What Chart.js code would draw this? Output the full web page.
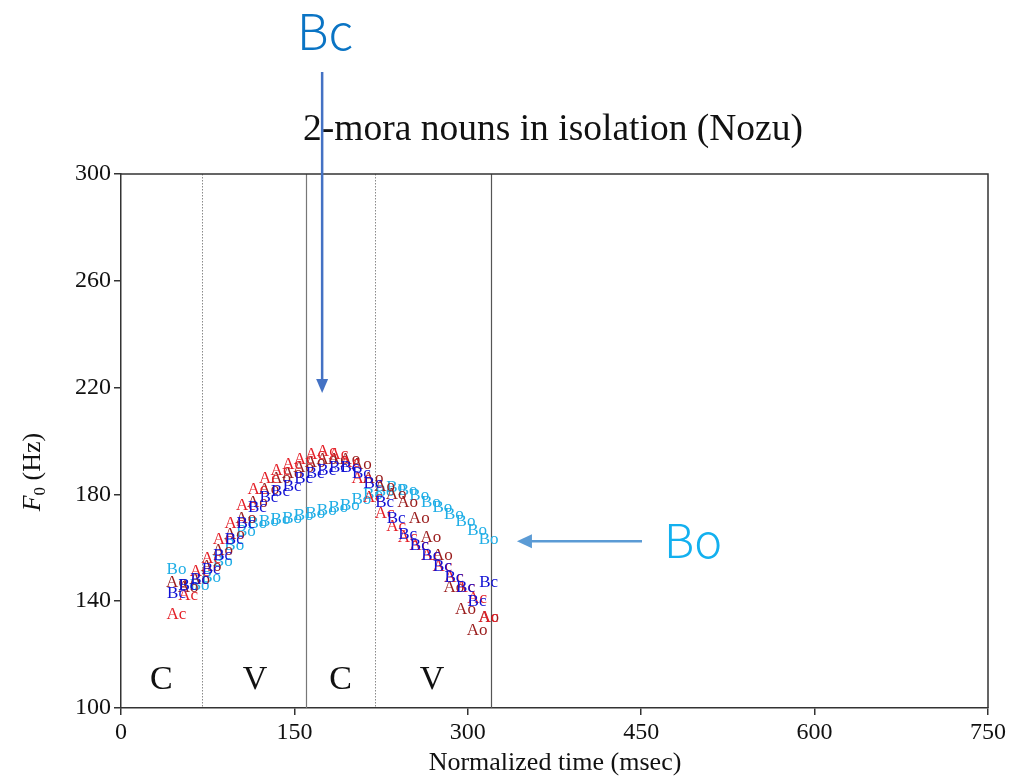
<!DOCTYPE html>
<html>
<head>
<meta charset="utf-8">
<script src="https://cdn.jsdelivr.net/npm/chart.js@4/dist/chart.umd.min.js"></script>
<style>
  html, body { margin: 0; padding: 0; background: #fff; }
  #wrap { width: 1013px; height: 777px; }
</style>
</head>
<body>
<div id="wrap"><canvas id="c" width="1013" height="777"></canvas></div>
<script>
// Normalized time points (msec)
const times = [48, 58, 68, 78, 88, 98, 108, 118, 128, 138, 148, 158, 168, 178,
               188, 198, 208, 218, 228, 238, 248, 258, 268, 278, 288, 298, 308, 318];

// F0 contours (Hz) for each accent/context condition
const acHz = [135, 142, 151, 156, 163, 169, 176, 182, 186, 189, 191, 193, 195, 196,
              195, 192, 186, 179, 173, 168, 164, 161, 157, 153, 149, 145, 141, 134];
const aoHz = [147, 145, 148, 153, 159, 165, 171, 177, 182, 186, 188, 190, 192, 193,
              193, 193, 191, 186, 183, 180, 177, 171, 164, 157, 145, 137, 129, 134];
const bcHz = [143, 146, 148, 152, 157, 163, 169, 175, 179, 181, 183, 186, 188, 189,
              190, 190, 188, 184, 177, 171, 165, 161, 157, 153, 149, 145, 140, 147];
const boHz = [152, 146, 146, 149, 155, 161, 166, 169, 170, 170.5, 171, 172, 173, 174,
              175, 176, 178, 180, 181, 182.5, 181.5, 179.5, 177, 175, 172.5, 170, 166.5, 163];

// Segment boundaries and segment names
const boundaries = [70, 160, 220, 320];
const segmentNames = ['C', 'V', 'C', 'V'];
const segmentCenters = [35, 116, 190, 269];

const xTicks = [0, 150, 300, 450, 600, 750];
const yTicks = [100, 140, 180, 220, 260, 300];

const toPoints = (ys) => times.map((t, i) => ({ x: t, y: ys[i] }));

const seriesDefs = [
  { label: 'Bo', data: boHz, color: '#20aee6' },
  { label: 'Ao', data: aoHz, color: '#9a1c1c' },
  { label: 'Ac', data: acHz, color: '#e41e26' },
  { label: 'Bc', data: bcHz, color: '#1010d4' }
];

const SERIF = '"Liberation Serif", "Times New Roman", serif';
const SANS = '"Noto Sans CJK JP", "Noto Sans", sans-serif';

// Draws segment boundaries and C/V names inside the plot
const segmentPlugin = {
  id: 'segments',
  beforeDatasetsDraw(chart) {
    const { ctx, chartArea: a, scales: { x, y } } = chart;
    ctx.save();
    boundaries.forEach((b, i) => {
      const px = Math.round(x.getPixelForValue(b)) + 0.5;
      ctx.beginPath();
      if (i % 2 === 0) {
        ctx.setLineDash([1.5, 1.5]);
        ctx.strokeStyle = '#8a8a8a';
        ctx.lineWidth = 1;
      } else {
        ctx.setLineDash([]);
        ctx.strokeStyle = i === 3 ? '#555' : '#777';
        ctx.lineWidth = 1.2;
      }
      ctx.moveTo(px, a.top);
      ctx.lineTo(px, a.bottom);
      ctx.stroke();
    });
    ctx.setLineDash([]);
    ctx.fillStyle = '#111';
    ctx.font = '34px ' + SERIF;
    ctx.textAlign = 'center';
    ctx.textBaseline = 'middle';
    segmentNames.forEach((n, i) => {
      ctx.fillText(n, x.getPixelForValue(segmentCenters[i]), y.getPixelForValue(110.5));
    });
    ctx.restore();
  }
};

// Each point is drawn as its condition name
const textMarkPlugin = {
  id: 'textMarks',
  afterDatasetsDraw(chart) {
    const { ctx } = chart;
    ctx.save();
    ctx.font = '17px ' + SERIF;
    ctx.textAlign = 'center';
    ctx.textBaseline = 'middle';
    chart.data.datasets.forEach((ds, di) => {
      const meta = chart.getDatasetMeta(di);
      ctx.fillStyle = ds.textColor;
      meta.data.forEach((el) => {
        ctx.fillText(ds.label, el.x, el.y);
      });
    });
    ctx.restore();
  }
};

// Frame, titles and callout arrows
const decorPlugin = {
  id: 'decor',
  afterDraw(chart) {
    const { ctx, chartArea: a, scales: { x, y } } = chart;
    ctx.save();
    // top and right frame edges
    ctx.strokeStyle = '#333';
    ctx.lineWidth = 1.5;
    ctx.beginPath();
    ctx.moveTo(a.left, a.top);
    ctx.lineTo(a.right, a.top);
    ctx.lineTo(a.right, a.bottom);
    ctx.stroke();

    // chart title
    ctx.fillStyle = '#111';
    ctx.font = '37.5px ' + SERIF;
    ctx.textAlign = 'center';
    ctx.textBaseline = 'alphabetic';
    ctx.fillText('2-mora nouns in isolation (Nozu)', 553, 140);

    // x axis title
    ctx.font = '26px ' + SERIF;
    ctx.fillText('Normalized time (msec)', 555, 770);

    // y axis title: italic F with subscript 0
    ctx.translate(40, 472);
    ctx.rotate(-Math.PI / 2);
    ctx.textAlign = 'left';
    const fMain = 'italic 26px ' + SERIF;
    const fSub = '17px ' + SERIF;
    const fRest = '26px ' + SERIF;
    ctx.font = fMain; const w1 = ctx.measureText('F').width;
    ctx.font = fSub; const w2 = ctx.measureText('0').width;
    ctx.font = fRest; const w3 = ctx.measureText(' (Hz)').width;
    let sx = -(w1 + w2 + w3) / 2;
    ctx.font = fMain; ctx.fillText('F', sx, 0); sx += w1;
    ctx.font = fSub; ctx.fillText('0', sx, 5); sx += w2;
    ctx.font = fRest; ctx.fillText(' (Hz)', sx, 0);
    ctx.setTransform(1, 0, 0, 1, 0, 0);

    // callout: Bc
    ctx.font = '300 49px ' + SANS;
    ctx.fillStyle = '#0a74c4';
    ctx.textAlign = 'left';
    ctx.fillText('Bc', 297, 50);
    const bcX = x.getPixelForValue(174);
    const bcTip = y.getPixelForValue(218);
    ctx.strokeStyle = '#4472c4';
    ctx.fillStyle = '#4472c4';
    ctx.lineWidth = 2.5;
    ctx.beginPath();
    ctx.moveTo(bcX, 72);
    ctx.lineTo(bcX, bcTip - 12);
    ctx.stroke();
    ctx.beginPath();
    ctx.moveTo(bcX, bcTip);
    ctx.lineTo(bcX - 6, bcTip - 14);
    ctx.lineTo(bcX + 6, bcTip - 14);
    ctx.closePath();
    ctx.fill();

    // callout: Bo
    ctx.font = '300 47px ' + SANS;
    ctx.fillStyle = '#13b0ef';
    ctx.fillText('Bo', 664, 558);
    const boY = y.getPixelForValue(162.5);
    const boTip = x.getPixelForValue(342.5);
    ctx.strokeStyle = '#5b9bd5';
    ctx.fillStyle = '#5b9bd5';
    ctx.beginPath();
    ctx.moveTo(642, boY);
    ctx.lineTo(boTip + 12, boY);
    ctx.stroke();
    ctx.beginPath();
    ctx.moveTo(boTip, boY);
    ctx.lineTo(boTip + 15, boY - 7);
    ctx.lineTo(boTip + 15, boY + 7);
    ctx.closePath();
    ctx.fill();
    ctx.restore();
  }
};

new Chart(document.getElementById('c'), {
  type: 'scatter',
  data: {
    datasets: seriesDefs.map((s) => ({
      label: s.label,
      data: toPoints(s.data),
      textColor: s.color,
      pointRadius: 0,
      pointHoverRadius: 0,
      showLine: false
    }))
  },
  options: {
    responsive: false,
    animation: false,
    events: [],
    layout: { padding: { top: 174, right: 25, left: 0, bottom: 0 } },
    plugins: {
      legend: { display: false },
      tooltip: { enabled: false },
      title: { display: false }
    },
    scales: {
      x: {
        type: 'linear',
        min: 0,
        max: 750,
        afterBuildTicks: (s) => { s.ticks = xTicks.map((v) => ({ value: v })); },
        afterFit: (s) => { s.height = 69; },
        ticks: { color: '#111', font: { family: SERIF, size: 24 }, padding: 3, maxRotation: 0 },
        grid: { drawOnChartArea: false, drawTicks: true, tickLength: 7, color: '#333', lineWidth: 1.5 },
        border: { color: '#333', width: 1.5 }
      },
      y: {
        type: 'linear',
        min: 100,
        max: 300,
        afterBuildTicks: (s) => { s.ticks = yTicks.map((v) => ({ value: v })); },
        afterFit: (s) => { s.width = 121; },
        ticks: { color: '#111', font: { family: SERIF, size: 24 }, padding: 3 },
        grid: { drawOnChartArea: false, drawTicks: true, tickLength: 7, color: '#333', lineWidth: 1.5 },
        border: { color: '#333', width: 1.5 }
      }
    }
  },
  plugins: [segmentPlugin, textMarkPlugin, decorPlugin]
});
</script>
</body>
</html>
